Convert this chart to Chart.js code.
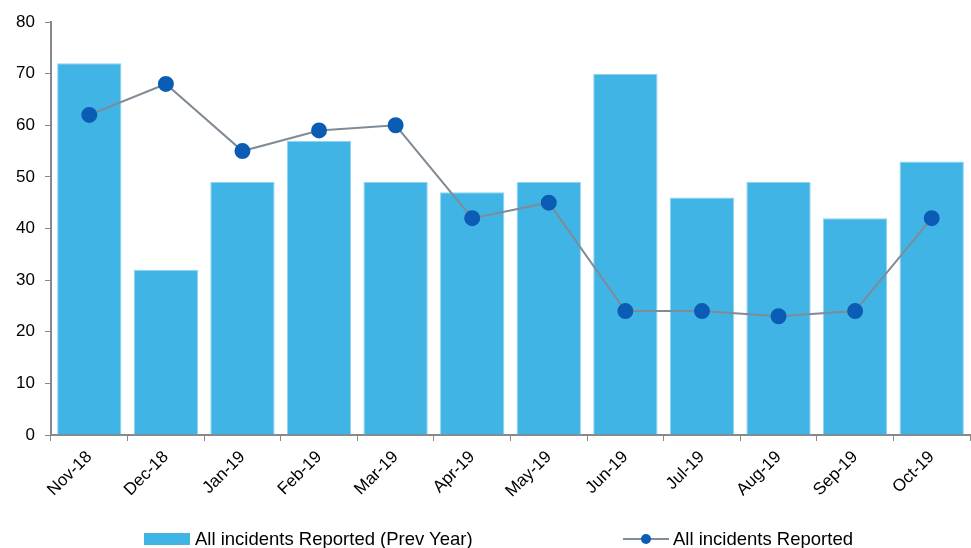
<!DOCTYPE html>
<html>
<head>
<meta charset="utf-8">
<script src="https://cdn.jsdelivr.net/npm/chart.js@4/dist/chart.umd.min.js"></script>
<style>
html,body{margin:0;padding:0;background:#fff;}
#wrap{position:relative;width:971px;height:548px;}
#legend{position:absolute;left:0;top:528px;width:971px;height:22px;font-family:"Liberation Sans",Arial,sans-serif;font-size:18.5px;color:#000;}
.li{position:absolute;top:0;display:flex;align-items:center;height:22px;white-space:nowrap;}
</style>
</head>
<body>
<div id="wrap">
<canvas id="c" width="971" height="548"></canvas>
<div id="legend">
  <div class="li" style="left:144px;"><span style="display:inline-block;width:46px;height:12px;background:#41b4e6;margin-right:5px;"></span>All incidents Reported (Prev Year)</div>
  <div class="li" style="left:623px;"><svg width="46" height="14" style="margin-right:4px"><line x1="0" y1="7" x2="46" y2="7" stroke="#7f8b96" stroke-width="2"/><circle cx="23" cy="7" r="5" fill="#0b5cb5"/></svg>All incidents Reported</div>
</div>
</div>
<script>
const categories = ["Nov-18","Dec-18","Jan-19","Feb-19","Mar-19","Apr-19","May-19","Jun-19","Jul-19","Aug-19","Sep-19","Oct-19"];
const prevYear = [72,32,49,57,49,47,49,70,46,49,42,53];
const reported = [62,68,55,59,60,42,45,24,24,23,24,42];
const yTicks = [0,10,20,30,40,50,60,70,80];

const font = {family:'"Liberation Sans", Arial, sans-serif', size:17};
new Chart(document.getElementById('c'), {
  data: {
    labels: categories,
    datasets: [
      {type:'line', label:'All incidents Reported', data: reported, borderColor:'#7f8b96', borderWidth:2,
       pointBackgroundColor:'#0b5cb5', pointBorderColor:'#0b5cb5', pointRadius:7, pointHoverRadius:7, tension:0, order:0},
      {type:'bar', label:'All incidents Reported (Prev Year)', data: prevYear, backgroundColor:'#41b4e6',
       borderColor:'#8fd3f2', borderWidth:{top:1,left:1,right:1,bottom:0}, barPercentage:0.84, categoryPercentage:1, order:1}
    ]
  },
  options: {
    responsive:false, animation:false,
    layout:{autoPadding:false, padding:{top:22,right:1,left:0,bottom:0}},
    plugins:{legend:{display:false}, tooltip:{enabled:false}},
    scales:{
      x:{
        grid:{display:true, drawOnChartArea:false, offset:true, tickLength:6, color:'#888'},
        border:{color:'#888', width:2},
        ticks:{font:font, color:'#000', maxRotation:45, minRotation:45, padding:6},
        afterFit(s){ s.height = 113; }
      },
      y:{
        min:0, max:80,
        afterBuildTicks(s){ s.ticks = yTicks.map(v=>({value:v})); },
        grid:{display:true, drawOnChartArea:false, tickLength:6, color:'#888'},
        border:{color:'#888', width:2},
        ticks:{font:font, color:'#000', padding:10},
        afterFit(s){ s.width = 51; }
      }
    }
  }
});
</script>
</body>
</html>
